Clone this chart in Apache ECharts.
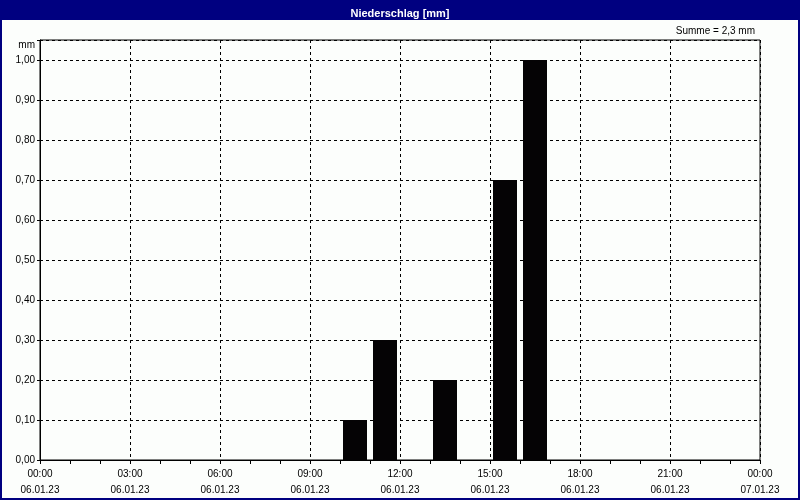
<!DOCTYPE html>
<html><head><meta charset="utf-8">
<script src="https://cdn.jsdelivr.net/npm/echarts@6/dist/echarts.min.js"></script>
<style>html,body{margin:0;padding:0;background:#fcfefc}#c{width:800px;height:500px}</style>
</head><body><div id="c"></div>
<script>
// Data
const intervalStart = ["10:00", "11:00", "13:00", "15:00", "16:00"];
const precip = [0.1, 0.3, 0.2, 0.7, 1.0];
const dayStart = "06.01.23";
const dayNext = "07.01.23";
const titleText = "Niederschlag [mm]";
const sumText = "Summe = 2,3 mm";
const yUnit = "mm";

function toHour(s){ const p = s.split(":"); return +p[0] + (+p[1])/60; }
const barData = intervalStart.map((t,i)=>[toHour(t)+0.5, precip[i]]);

const chart = echarts.init(document.getElementById('c'), null, {renderer:'canvas'});
const font = 'Liberation Sans';
chart.setOption({
  backgroundColor: '#fcfefc',
  animation: false,
  title: {
    text: titleText, left: 'center', top: 3,
    textStyle: {color:'#ffffff', fontFamily: font, fontSize: 11, fontWeight: 'bold'}
  },
  graphic: [
    {type:'rect', shape:{x:0,y:0,width:800,height:20}, style:{fill:'#000080'}, z:-1},
    {type:'rect', shape:{x:0,y:0,width:800,height:500}, style:{fill:null, stroke:'#000080', lineWidth:4}, z:10},
    {type:'text', right:45, top:26, style:{text:sumText, fill:'#000', font:'10px "Liberation Sans"'}},
    {type:'text', right:765, top:40, style:{text:yUnit, fill:'#000', font:'10px "Liberation Sans"', align:'right'}}
  ],
  grid: {left:40, right:40, top:40, bottom:40, show:true, borderColor:'#000', borderWidth:1, backgroundColor:'transparent'},
  xAxis: {
    type:'value', min:0, max:24, interval:3,
    axisLine:{show:true, lineStyle:{color:'#000', width:1}},
    axisTick:{show:true, length:4, lineStyle:{color:'#000'}},
    minorTick:{show:true, splitNumber:3, length:4, lineStyle:{color:'#000'}},
    splitLine:{show:true, lineStyle:{color:'#000', type:[3,3], width:1}},
    axisLabel:{
      color:'#000', fontFamily:font, fontSize:10, lineHeight:16, margin:6,
      showMinLabel:true, showMaxLabel:true,
      formatter: v => {
        const h = v % 24;
        const d = v >= 24 ? dayNext : dayStart;
        return (h<10?'0':'')+h+':00\n'+d;
      }
    }
  },
  yAxis: {
    type:'value', min:0, max:1.05, interval:0.1,
    axisLine:{show:true, lineStyle:{color:'#000'}},
    axisTick:{show:true, length:3, lineStyle:{color:'#000'}},
    splitLine:{show:true, lineStyle:{color:'#000', type:[3,3], width:1}},
    axisLabel:{
      color:'#000', fontFamily:font, fontSize:10, margin:5,
      formatter: v => v > 1.001 ? '' : v.toFixed(2).replace('.', ',')
    }
  },
  series: [{
    type:'bar', data: barData, barWidth: 24,
    itemStyle:{color:'#050305'}
  }]
});
</script></body></html>
